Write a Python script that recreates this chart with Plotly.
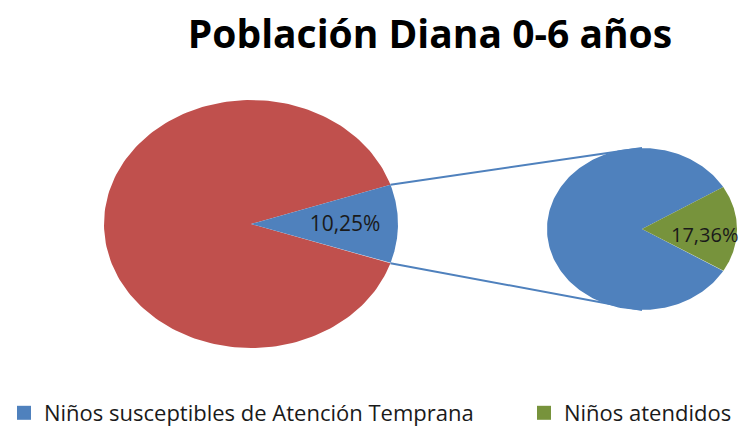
import numpy as np
import plotly.graph_objects as go

# ---- data ----
main_labels = ["Resto de población", "Niños susceptibles de Atención Temprana"]
main_values = [89.75, 10.25]
sub_labels = ["Niños susceptibles de Atención Temprana", "Niños atendidos"]
sub_values = [82.64, 17.36]
legend_labels = ["Niños susceptibles de Atención Temprana", "Niños atendidos"]
title_text = "Población Diana 0-6 años"

RED, BLUE, GREEN = "#C0504D", "#4F81BD", "#77933C"

# ---- geometry (layout constants; axes in window pixels) ----
W, H = 742, 426
MCX, MCY, MRX, MRY = 251, 224, 147, 124
SCX, SCY, SRX, SRY = 642, 229, 95, 81


def px(xs):
    return xs / W


def py(ys):
    return 1 - ys / H


def pt(cx, cy, rx, ry, ang):
    a = np.deg2rad(ang)
    return cx + rx * np.cos(a), cy - ry * np.sin(a)


def wedge(cx, cy, rx, ry, a0, a1):
    angs = np.linspace(a0, a1, 200)
    xs, ys = pt(cx, cy, rx, ry, angs)
    return np.r_[cx, xs, cx], np.r_[cy, ys, cy]


def fmt(v):
    return f"{v:.2f}".replace(".", ",") + "%"


fig = go.Figure()

half_main = main_values[1] / sum(main_values) * 180
half_sub = sub_values[1] / sum(sub_values) * 180

# connector lines (drawn first, covered by the secondary pie)
tx, ty = pt(MCX, MCY, MRX, MRY, half_main)
bx, by = pt(MCX, MCY, MRX, MRY, -half_main)
stx, sty = pt(SCX, SCY, SRX, SRY, 90)
sbx, sby = pt(SCX, SCY, SRX, SRY, -90)
fig.add_trace(go.Scatter(x=[tx, stx, None, bx, sbx], y=[ty, sty, None, by, sby],
                         mode="lines", line=dict(color=BLUE, width=2),
                         showlegend=False, hoverinfo="skip"))

x, y = wedge(MCX, MCY, MRX, MRY, half_main, 360 - half_main)
fig.add_trace(go.Scatter(x=x, y=y, fill="toself", fillcolor=RED, mode="lines",
                         line=dict(width=0, color=RED), showlegend=False,
                         name=main_labels[0]))
x, y = wedge(MCX, MCY, MRX, MRY, -half_main, half_main)
fig.add_trace(go.Scatter(x=x, y=y, fill="toself", fillcolor=BLUE, mode="lines",
                         line=dict(width=0, color=BLUE), showlegend=False,
                         name=main_labels[1]))

x, y = wedge(SCX, SCY, SRX, SRY, half_sub, 360 - half_sub)
fig.add_trace(go.Scatter(x=x, y=y, fill="toself", fillcolor=BLUE, mode="lines",
                         line=dict(width=0, color=BLUE), showlegend=False,
                         name=sub_labels[0]))
x, y = wedge(SCX, SCY, SRX, SRY, -half_sub, half_sub)
fig.add_trace(go.Scatter(x=x, y=y, fill="toself", fillcolor=GREEN, mode="lines",
                         line=dict(width=0, color=GREEN), showlegend=False,
                         name=sub_labels[1]))

# labels
lx, ly = pt(MCX, MCY, MRX * 0.64, MRY * 0.64, 0)
fig.add_trace(go.Scatter(x=[lx], y=[ly + 2], mode="text", text=[fmt(main_values[1])],
                         textfont=dict(family="Open Sans", size=21, color="#1a1a1a"),
                         showlegend=False, hoverinfo="skip", cliponaxis=False))
lx, ly = pt(SCX, SCY, SRX * 0.66, SRY * 0.66, 0)
fig.add_trace(go.Scatter(x=[lx], y=[ly + 8], mode="text", text=[fmt(sub_values[1])],
                         textfont=dict(family="Open Sans", size=20, color="#1a1a1a"),
                         showlegend=False, hoverinfo="skip", cliponaxis=False))

# legend entries (two legends so they sit apart on one row)
for name, col, lg in zip(legend_labels, [BLUE, GREEN], ["legend", "legend2"]):
    fig.add_trace(go.Scatter(x=[None], y=[None], mode="markers", name=name,
                             legend=lg,
                             marker=dict(symbol="square", size=14, color=col)))

legend_common = dict(orientation="h", xanchor="left", y=py(413),
                     yanchor="middle", itemwidth=30,
                     font=dict(family="Open Sans", size=22, color="#1a1a1a"),
                     bgcolor="rgba(0,0,0,0)")

fig.update_layout(
    width=W, height=H,
    margin=dict(l=0, r=0, t=0, b=0, autoexpand=False),
    paper_bgcolor="white", plot_bgcolor="white",
    xaxis=dict(range=[0, W], visible=False, fixedrange=True),
    yaxis=dict(range=[H, 0], visible=False, fixedrange=True),
    title=dict(text=f"<b>{title_text}</b>", x=px(430), xanchor="center",
               y=py(34), yanchor="middle", yref="container",
               font=dict(family="Open Sans", size=39, color="black")),
    legend=dict(x=px(4), **legend_common),
    legend2=dict(x=px(524), **legend_common),
    showlegend=True,
)

fig.write_html("out.html", config={"displayModeBar": False},
               post_script="document.body.style.margin='0';"
                           "document.body.style.overflow='hidden';")
